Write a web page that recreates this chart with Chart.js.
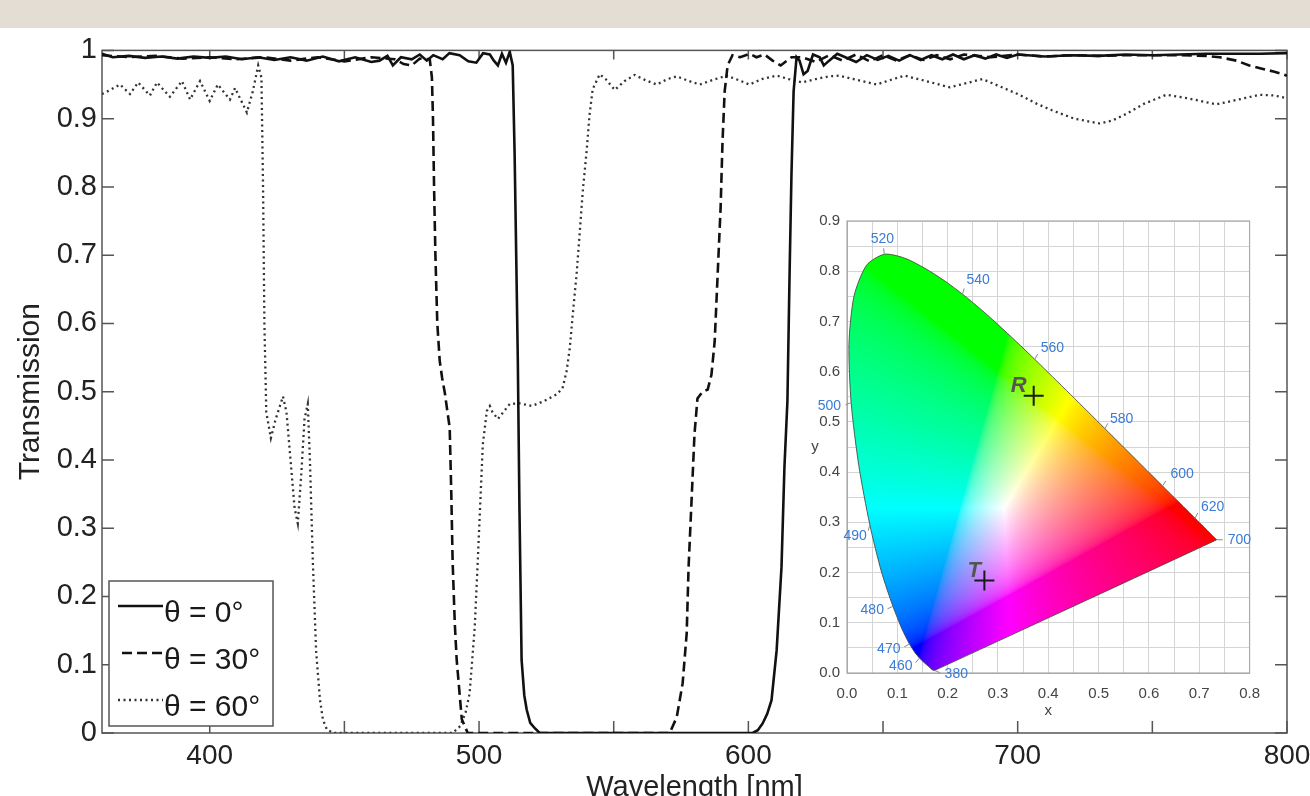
<!DOCTYPE html>
<html>
<head>
<meta charset="utf-8">
<script src="https://cdn.jsdelivr.net/npm/chart.js@4.4.1/dist/chart.umd.min.js"></script>
<style>
  html, body { margin: 0; padding: 0; width: 1310px; height: 796px; overflow: hidden; background: #fff; }
  #faixa { position: absolute; left: 0; top: 0; width: 1310px; height: 28px; background: #e4ddd3; }
  #principal { position: absolute; left: 0; top: 28px; width: 1310px; height: 790px; }
  #inset { position: absolute; left: 800px; top: 205px; width: 472px; height: 515px; background: #fff; }
</style>
</head>
<body>
<div id="faixa"></div>
<div id="principal"><canvas id="graficoTransmissao" width="1310" height="790"></canvas></div>
<div id="inset"><canvas id="graficoCIE" width="472" height="515"></canvas></div>
<script>
// transmissão, theta = 0
const solidNm = [360,364,370,376,382,388,394,400,406,412,418,424,430,436,442,448,454,460,463,466,468,471,475,478,480.6,483,486.5,489,492.8,496,499,501.5,504,505.5,507,508.5,510,511.4,512.5,513.2,513.8,514.4,515,515.8,516.8,517.7,519,520.7,522.5,560,601.6,603.5,605.3,607,608.6,610.5,612.3,613.4,614.5,615.3,616,616.8,617.9,619,620.5,622,624,626.5,628,630,633,636,640,644,648,652,656,660,664,668,672,676,680,684,688,692,696,700,710,720,730,740,750,760,770,780,790,800];
const solidT = [0.995,0.99,0.992,0.989,0.991,0.988,0.991,0.989,0.991,0.987,0.99,0.986,0.99,0.985,0.991,0.984,0.99,0.983,0.985,0.992,0.978,0.99,0.987,0.994,0.985,0.993,0.987,0.996,0.993,0.984,0.982,0.996,0.994,0.985,0.978,0.995,0.982,0.998,0.978,0.85,0.7,0.545,0.33,0.107,0.055,0.034,0.015,0.007,0,0,0,0.004,0.014,0.028,0.048,0.121,0.243,0.39,0.486,0.672,0.818,0.94,0.99,0.985,0.965,0.97,0.994,0.99,0.978,0.985,0.995,0.99,0.983,0.993,0.986,0.992,0.985,0.993,0.986,0.993,0.987,0.994,0.987,0.993,0.988,0.994,0.989,0.994,0.991,0.993,0.992,0.994,0.993,0.994,0.995,0.995,0.995,0.996];

// theta = 30
const dashedNm = [360,370,380,390,400,410,420,430,440,450,460,468.7,472,475,478,481.7,482.5,482.9,483.3,483.8,484.5,485.4,486.3,487.3,489.1,489.7,490.2,491,491.7,493.6,495.8,530,570.8,573.4,575.6,577.1,577.8,578.9,580,581.1,583,584.9,586.3,587.5,588.6,589.7,590.4,591.2,592.3,594.1,597,600.4,603,606,609,612,616,620,625,630,635,640,645,650,655,660,665,670,675,680,690,700,710,720,730,740,750,760,770,775,781.2,786,790,795,800];
const dashedT = [0.993,0.99,0.992,0.988,0.99,0.987,0.99,0.985,0.99,0.984,0.99,0.987,0.98,0.978,0.988,0.987,0.96,0.9,0.8,0.7,0.6,0.545,0.52,0.498,0.447,0.35,0.25,0.16,0.107,0.02,0,0,0,0.023,0.073,0.146,0.243,0.34,0.438,0.49,0.5,0.503,0.525,0.574,0.672,0.77,0.866,0.94,0.978,0.993,0.99,0.995,0.99,0.994,0.985,0.978,0.99,0.99,0.983,0.993,0.985,0.994,0.984,0.993,0.985,0.993,0.986,0.993,0.987,0.994,0.99,0.994,0.991,0.993,0.992,0.993,0.993,0.993,0.992,0.99,0.985,0.978,0.974,0.969,0.963];

// theta = 60
const dottedNm = [360,363,366.7,370.4,373.4,377.8,380.4,385.2,389.7,392.7,396.4,400,403,407.5,409.4,413.8,416,418,419.2,419.8,420.3,421,422.7,424.5,427.2,428.5,430,431.5,432.7,434,435.2,436.4,437.2,438.3,439.5,440.9,442,443.5,446,470,490.2,493,495,496.5,498.4,499.5,500.6,501.4,502.9,504,505,507,509,511.4,515.1,519.6,524,528.8,531,532.5,533.7,534.8,536.3,537.4,538.5,540,541,542.2,543,544.8,547,550.4,554,557.8,562,566,570,573.4,578,582,587,592,596,600.4,605,610.5,615,620,625,630,633.8,640,647.6,653,658,666,674.7,681,686.9,693,700.6,707,712.9,721,730.3,735,740.3,747,755.2,763,773.7,782,789.7,795,800];
const dottedT = [0.936,0.942,0.95,0.936,0.953,0.934,0.953,0.932,0.955,0.928,0.955,0.926,0.95,0.928,0.945,0.909,0.94,0.978,0.96,0.8,0.6,0.47,0.432,0.46,0.493,0.47,0.4,0.33,0.307,0.38,0.46,0.482,0.4,0.25,0.12,0.05,0.02,0.005,0,0,0,0.01,0.03,0.058,0.155,0.25,0.35,0.423,0.472,0.479,0.47,0.46,0.47,0.482,0.483,0.479,0.486,0.496,0.505,0.53,0.564,0.613,0.676,0.734,0.793,0.855,0.905,0.943,0.95,0.965,0.958,0.942,0.955,0.964,0.956,0.95,0.958,0.962,0.955,0.95,0.957,0.963,0.957,0.95,0.958,0.963,0.958,0.953,0.958,0.962,0.963,0.957,0.95,0.957,0.963,0.955,0.946,0.952,0.958,0.948,0.935,0.922,0.912,0.9,0.893,0.897,0.907,0.922,0.935,0.93,0.921,0.928,0.935,0.934,0.93];

const serieLabels = ["\u03b8 = 0\u00b0", "\u03b8 = 30\u00b0", "\u03b8 = 60\u00b0"];
const xTicks = [400,450,500,550,600,650,700,750,800];

// diagrama de cromaticidade
const cieWl = [380,385,390,395,400,405,410,415,420,425,430,435,440,445,450,455,460,465,470,475,480,485,490,495,500,505,510,515,520,525,530,535,540,545,550,555,560,565,570,575,580,585,590,595,600,605,610,615,620,625,630,635,640,645,650,660,670,680,700];
const cieX = [0.1741,0.1740,0.1738,0.1736,0.1733,0.1730,0.1726,0.1721,0.1714,0.1703,0.1689,0.1669,0.1644,0.1611,0.1566,0.1510,0.1440,0.1355,0.1241,0.1096,0.0913,0.0687,0.0454,0.0235,0.0082,0.0039,0.0139,0.0389,0.0743,0.1142,0.1547,0.1929,0.2296,0.2658,0.3016,0.3373,0.3731,0.4087,0.4441,0.4788,0.5125,0.5448,0.5752,0.6029,0.6270,0.6482,0.6658,0.6801,0.6915,0.7006,0.7079,0.7140,0.7190,0.7230,0.7260,0.7300,0.7320,0.7334,0.7347];
const cieY = [0.0050,0.0050,0.0049,0.0049,0.0048,0.0048,0.0048,0.0048,0.0051,0.0058,0.0069,0.0086,0.0109,0.0138,0.0177,0.0227,0.0297,0.0399,0.0578,0.0868,0.1327,0.2007,0.2950,0.4127,0.5384,0.6548,0.7502,0.8120,0.8338,0.8262,0.8059,0.7816,0.7543,0.7243,0.6923,0.6589,0.6245,0.5896,0.5547,0.5202,0.4866,0.4544,0.4242,0.3965,0.3725,0.3514,0.3340,0.3197,0.3083,0.2993,0.2920,0.2859,0.2809,0.2770,0.2740,0.2700,0.2680,0.2666,0.2653];
const cieRotulos = [380,460,470,480,490,500,520,540,560,580,600,620,700];
const marcadorNomes = ["R", "T"];
const marcadorX = [0.371, 0.273];
const marcadorY = [0.552, 0.184];

Chart.defaults.font.family = "'Liberation Sans', Arial, sans-serif";

function pontos(xs, ys) {
  return xs.map((v, i) => ({ x: v, y: ys[i] }));
}

// bordas, marcas internas e legenda do grafico principal
const moldura = {
  id: "moldura",
  beforeDatasetsDraw(chart) {
    const { ctx, chartArea: a, scales: { x, y } } = chart;
    ctx.save();
    ctx.strokeStyle = "#555";
    ctx.lineWidth = 1.5;
    ctx.beginPath();
    x.ticks.forEach((t) => {
      const px = x.getPixelForValue(t.value);
      ctx.moveTo(px, a.bottom);
      ctx.lineTo(px, a.bottom - 12);
      ctx.moveTo(px, a.top);
      ctx.lineTo(px, a.top + 9);
    });
    y.ticks.forEach((t) => {
      const py = y.getPixelForValue(t.value);
      ctx.moveTo(a.left, py);
      ctx.lineTo(a.left + 12, py);
      ctx.moveTo(a.right, py);
      ctx.lineTo(a.right - 12, py);
    });
    ctx.stroke();
    ctx.strokeRect(a.left, a.top, a.width, a.height);
    ctx.restore();
  },
  afterDatasetsDraw(chart) {
    const ctx = chart.ctx;
    ctx.save();
    ctx.fillStyle = "#fff";
    ctx.fillRect(109, 553, 164, 145);
    ctx.strokeStyle = "#555";
    ctx.lineWidth = 1.5;
    ctx.strokeRect(109, 553, 164, 145);
    chart.data.datasets.forEach((ds, i) => {
      const ly = 578 + i * 47;
      ctx.beginPath();
      ctx.strokeStyle = ds.borderColor;
      ctx.lineWidth = ds.borderWidth;
      ctx.setLineDash(ds.borderDash || []);
      ctx.moveTo(i === 1 ? 122 : 118, ly);
      ctx.lineTo(163, ly);
      ctx.stroke();
      ctx.setLineDash([]);
      ctx.fillStyle = "#1a1a1a";
      ctx.font = "30px 'Liberation Sans', Arial, sans-serif";
      ctx.textAlign = "left";
      ctx.textBaseline = "alphabetic";
      ctx.fillText(ds.label, 164, 594 + i * 47);
    });
    ctx.restore();
  },
};

new Chart(document.getElementById("graficoTransmissao").getContext("2d"), {
  type: "line",
  data: {
    datasets: [
      { label: serieLabels[0], data: pontos(solidNm, solidT), borderColor: "#111", borderWidth: 2.6, pointRadius: 0, tension: 0 },
      { label: serieLabels[1], data: pontos(dashedNm, dashedT), borderColor: "#111", borderWidth: 2.6, borderDash: [10, 5], pointRadius: 0, tension: 0 },
      { label: serieLabels[2], data: pontos(dottedNm, dottedT), borderColor: "#333", borderWidth: 2.3, borderDash: [2, 3.5], pointRadius: 0, tension: 0 },
    ],
  },
  options: {
    responsive: false,
    animation: false,
    layout: { padding: { left: 0, right: 23, top: 20, bottom: 0 } },
    plugins: { legend: { display: false }, tooltip: { enabled: false } },
    scales: {
      x: {
        type: "linear",
        min: 360,
        max: 800,
        afterBuildTicks: (s) => { s.ticks = xTicks.map((v) => ({ value: v })); },
        afterFit: (s) => { s.height = 85; s.paddingLeft = 0; s.paddingRight = 0; },
        grid: { display: false, drawTicks: false },
        border: { display: false },
        ticks: {
          autoSkip: false,
          maxRotation: 0,
          padding: 6,
          color: "#222",
          font: { size: 28 },
          callback: (v) => (v % 100 === 0 ? String(v) : ""),
        },
        title: { display: true, text: "Wavelength [nm]", color: "#222", font: { size: 29 }, padding: { top: 0, bottom: 13 } },
      },
      y: {
        min: 0,
        max: 1,
        afterFit: (s) => { s.width = 102; },
        grid: { display: false, drawTicks: false },
        border: { display: false },
        ticks: {
          stepSize: 0.1,
          padding: 5,
          color: "#222",
          font: { size: 29 },
          callback: (v) => (v === 0 ? "0" : v === 1 ? "1" : v.toFixed(1)),
        },
        title: { display: true, text: "Transmission", color: "#222", font: { size: 30 }, padding: { top: 13, bottom: 0 } },
      },
    },
  },
  plugins: [moldura],
});

// ---- inset CIE ----
function xyParaRgb(cx, cy) {
  if (cy < 0.001) cy = 0.001;
  const X = cx / cy;
  const Z = (1 - cx - cy) / cy;
  let r = 3.2406 * X - 1.5372 - 0.4986 * Z;
  let g = -0.9689 * X + 1.8758 + 0.0415 * Z;
  let b = 0.0557 * X - 0.204 + 1.057 * Z;
  r = Math.max(r, 0);
  g = Math.max(g, 0);
  b = Math.max(b, 0);
  const m = Math.max(r, g, b) || 1;
  return [r, g, b].map((c) => {
    c /= m;
    c = c <= 0.0031308 ? 12.92 * c : 1.055 * Math.pow(c, 1 / 2.4) - 0.055;
    return Math.round(255 * c);
  });
}

function caminhoLocus(ctx, pts) {
  ctx.beginPath();
  pts.forEach((p, i) => {
    if (i === 0) {
      ctx.moveTo(p.x, p.y);
    } else {
      const q = pts[i - 1];
      ctx.bezierCurveTo(q.cp2x, q.cp2y, p.cp1x, p.cp1y, p.x, p.y);
    }
  });
  ctx.closePath();
}

const rotuloEstilo = {
  380: [10, 4, "left"], 460: [-7, 8, "right"], 470: [-9, 5, "right"], 480: [-9, 4, "right"],
  490: [-3, 11, "right"], 500: [-10, 4, "right"], 520: [-2, -15, "center"], 540: [4, -14, "left"],
  560: [6, -11, "left"], 580: [5, -9, "left"], 600: [8, -12, "left"], 620: [6, -11, "left"],
  700: [11, 0, "left"],
};

const preenchimentoCIE = {
  id: "preenchimentoCIE",
  beforeDatasetsDraw(chart) {
    const { ctx, chartArea: a, scales: { x, y } } = chart;
    const w = Math.ceil(a.width);
    const h = Math.ceil(a.height);
    const off = document.createElement("canvas");
    off.width = w;
    off.height = h;
    const octx = off.getContext("2d");
    const img = octx.createImageData(w, h);
    for (let j = 0; j < h; j++) {
      const cy = y.getValueForPixel(a.top + j + 0.5);
      for (let i = 0; i < w; i++) {
        const cx = x.getValueForPixel(a.left + i + 0.5);
        const c = xyParaRgb(cx, cy);
        const k = (j * w + i) * 4;
        img.data[k] = c[0];
        img.data[k + 1] = c[1];
        img.data[k + 2] = c[2];
        img.data[k + 3] = 255;
      }
    }
    octx.putImageData(img, 0, 0);
    ctx.save();
    ctx.strokeStyle = "#aaa";
    ctx.lineWidth = 1.2;
    ctx.strokeRect(a.left, a.top, a.width, a.height);
    caminhoLocus(ctx, chart.getDatasetMeta(0).data);
    ctx.clip();
    ctx.drawImage(off, a.left, a.top);
    ctx.restore();
  },
  afterDatasetsDraw(chart) {
    const { ctx, chartArea: a } = chart;
    const locus = chart.getDatasetMeta(0).data;
    ctx.save();
    ctx.font = "14px 'Liberation Sans', Arial, sans-serif";
    ctx.textBaseline = "middle";
    cieRotulos.forEach((wl) => {
      const p = locus[cieWl.indexOf(wl)];
      const [dx, dy, al] = rotuloEstilo[wl];
      const len = Math.hypot(dx, dy) || 1;
      ctx.strokeStyle = "#8a8a8a";
      ctx.lineWidth = 1;
      ctx.beginPath();
      ctx.moveTo(p.x, p.y);
      ctx.lineTo(p.x + (dx / len) * 6, p.y + (dy / len) * 6);
      ctx.stroke();
      ctx.fillStyle = "#3a7bd5";
      ctx.textAlign = al;
      ctx.fillText(String(wl), p.x + dx, p.y + dy);
    });
    const marcas = chart.getDatasetMeta(1).data;
    ctx.fillStyle = "#555";
    ctx.font = "italic bold 22px 'Liberation Sans', Arial, sans-serif";
    ctx.textBaseline = "alphabetic";
    ctx.textAlign = "left";
    marcadorNomes.forEach((nome, i) => {
      const p = marcas[i];
      ctx.fillText(nome, p.x + (nome === "R" ? -23 : -17), p.y - 4);
    });
    ctx.fillStyle = "#444";
    ctx.font = "15px 'Liberation Sans', Arial, sans-serif";
    ctx.textAlign = "center";
    ctx.textBaseline = "middle";
    ctx.fillText("y", a.left - 32, (a.top + a.bottom) / 2);
    ctx.restore();
  },
};

const rotuloDecimo = (v) => (Math.round(v * 100) % 10 === 0 ? v.toFixed(1) : "");

new Chart(document.getElementById("graficoCIE").getContext("2d"), {
  type: "line",
  data: {
    datasets: [
      {
        data: pontos(cieX, cieY).concat([{ x: cieX[0], y: cieY[0] }]),
        borderColor: "rgba(70,70,60,0.85)",
        borderWidth: 1,
        pointRadius: 0,
        tension: 0.25,
        fill: false,
      },
      {
        data: pontos(marcadorX, marcadorY),
        showLine: false,
        pointStyle: "cross",
        pointRadius: 10,
        pointBorderWidth: 2,
        pointBorderColor: "#1a1a1a",
        borderColor: "#1a1a1a",
      },
    ],
  },
  options: {
    responsive: false,
    animation: false,
    layout: { padding: { left: 0, right: 20, top: 13, bottom: 0 } },
    plugins: { legend: { display: false }, tooltip: { enabled: false } },
    scales: {
      x: {
        type: "linear",
        min: 0,
        max: 0.8,
        afterFit: (s) => { s.height = 47; },
        grid: { color: "#d4d4d4", drawTicks: false },
        border: { color: "#aaa" },
        ticks: { stepSize: 0.05, autoSkip: false, maxRotation: 0, padding: 12, color: "#444", font: { size: 15 }, callback: rotuloDecimo },
        title: { display: true, text: "x", color: "#444", font: { size: 15 }, padding: { top: 0, bottom: 0 } },
      },
      y: {
        min: 0,
        max: 0.9,
        afterFit: (s) => { s.width = 47; },
        grid: { color: "#d4d4d4", drawTicks: false },
        border: { color: "#aaa" },
        ticks: { stepSize: 0.05, autoSkip: false, padding: 7, color: "#444", font: { size: 15 }, callback: rotuloDecimo },
      },
    },
  },
  plugins: [preenchimentoCIE],
});
</script>
</body>
</html>
